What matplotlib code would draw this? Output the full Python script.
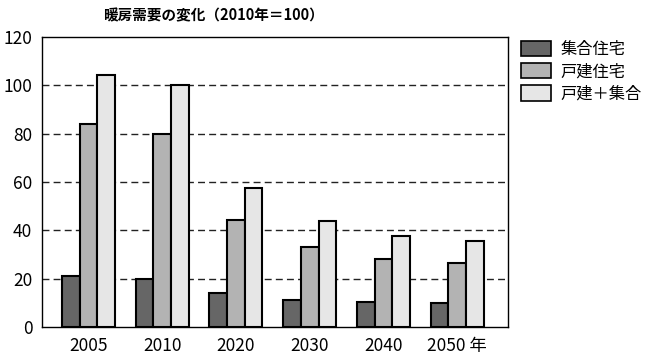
import numpy as np
import matplotlib
matplotlib.use("Agg")
import matplotlib.pyplot as plt
from matplotlib.patches import Patch

plt.rcParams["font.family"] = ["Noto Sans CJK JP", "DejaVu Sans"]

# データ
years = ["2005", "2010", "2020", "2030", "2040", "2050 年"]
series_names = ["集合住宅", "戸建住宅", "戸建＋集合"]
apartment = [21.1, 19.8, 13.9, 11.0, 10.2, 9.8]
detached = [83.8, 80.0, 44.2, 33.0, 28.0, 26.6]
total = [104.3, 100.0, 57.6, 43.9, 37.5, 35.7]
colors = ["#666666", "#b3b3b3", "#e6e6e6"]

fig = plt.figure(figsize=(6.47, 3.63), dpi=100)
ax = fig.add_axes([42 / 647, 1 - 327 / 363, 466 / 647, 290 / 363])

x = np.arange(len(years))
w = 0.24
for i, vals in enumerate([apartment, detached, total]):
    ax.bar(x + (i - 1) * w, vals, w, color=colors[i], edgecolor="black",
           linewidth=1.5, zorder=3)

ax.set_xlim(-0.63, 5.69)
ax.set_ylim(0, 120)
ax.set_yticks(range(0, 121, 20))
ax.set_xticks(x)
ax.set_xticklabels(years, fontsize=12.5)
ax.tick_params(axis="y", labelsize=12.5, length=0, pad=7)
ax.tick_params(axis="x", length=0, pad=7)
for yv in range(20, 101, 20):
    ax.axhline(yv, color="#222222", linestyle=(0, (5, 3)), linewidth=1, zorder=1)
for s in ax.spines.values():
    s.set_linewidth(1)
    s.set_color("black")

fig.text(0.33, 0.958, "暖房需要の変化（2010年＝100）", ha="center", va="center",
         fontsize=10.5, fontweight="bold")

handles = [Patch(facecolor=c, edgecolor="black", linewidth=1.2) for c in colors]
fig.legend(handles, series_names, loc="upper left", bbox_to_anchor=(0.806, 0.888),
           frameon=False, fontsize=11.7, handlelength=1.8, handleheight=1.1,
           handletextpad=0.6, labelspacing=0.3, borderaxespad=0, borderpad=0)

fig.savefig("out.png", dpi=100)
